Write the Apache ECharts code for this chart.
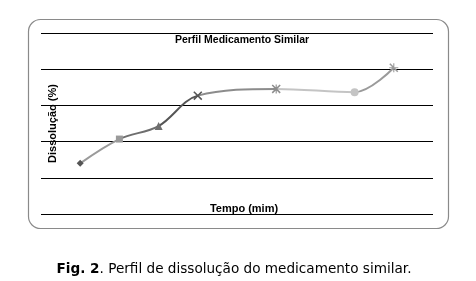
<!DOCTYPE html>
<html><head><meta charset="utf-8">
<script src="https://cdn.jsdelivr.net/npm/echarts@6/dist/echarts.min.js"></script>
<style>html,body{margin:0;padding:0;background:#fff}#c{width:476px;height:281px}</style>
</head><body><div id="c"></div>
<script>
const tempos = [5, 10, 15, 20, 30, 40, 45];
const dissolucao = [28.0, 41.4, 48.6, 65.4, 69.1, 67.3, 80.8];
const pointColors = ['#555555', '#9a9a9a', '#6e6e6e', '#555555', '#8c8c8c', '#c4c4c4', '#9a9a9a'];
const X_SYM = 'path://M0,1.2L1.2,0L10,8.8L8.8,10Z M8.8,0L10,1.2L1.2,10L0,8.8Z';
const AST_SYM = 'path://M0,1.2L1.2,0L10,8.8L8.8,10Z M8.8,0L10,1.2L1.2,10L0,8.8Z M4.4,0L5.6,0L5.6,10L4.4,10Z';
const PLUS_SYM = 'path://M4.4,0L5.6,0L5.6,10L4.4,10Z M0,4.4L10,4.4L10,5.6L0,5.6Z M0,1.2L1.2,0L10,8.8L8.8,10Z';
const symbols = ['diamond', 'rect', 'triangle', X_SYM, AST_SYM, 'circle', PLUS_SYM];
const symbolSizes = [7, 7, 8, 9, 9, 8, 9];
const chartTitle = 'Perfil Medicamento Similar';
const xName = 'Tempo (mim)';
const yName = 'Dissolução (%)';

const pieces = tempos.map((t, i) => i === 0 ? {lte: t, color: pointColors[i]} : {gt: tempos[i-1], lte: t, color: pointColors[i]});
pieces.push({gt: tempos[tempos.length-1], color: pointColors[pointColors.length-1]});

const chart = echarts.init(document.getElementById('c'), null, {renderer: 'canvas'});
chart.setOption({
  animation: false,
  backgroundColor: '#fff',
  grid: {left: 41, right: 43, top: 33, bottom: 67},
  title: [
    {text: chartTitle, left: 237, top: 30, textAlign: 'center',
     textStyle: {fontFamily: 'Liberation Sans', fontWeight: 'bold', fontSize: 10.5, color: '#000'}},
    {text: xName, left: 239, top: 198, textAlign: 'center',
     textStyle: {fontFamily: 'Liberation Sans', fontWeight: 'bold', fontSize: 11, color: '#000'}},
    {text: '{b|Fig. 2}. Perfil de dissolução do medicamento similar.', left: 229, top: 257, textAlign: 'center',
     textStyle: {fontFamily: 'DejaVu Sans', fontWeight: 'normal', fontSize: 13.6, color: '#000',
       rich: {b: {fontFamily: 'DejaVu Sans', fontWeight: 'bold', fontSize: 13.6, color: '#000'}}}}
  ],
  graphic: [{type: 'rect', shape: {x: 28.5, y: 19.5, width: 420, height: 209, r: 12},
    style: {fill: 'none', stroke: '#8a8a8a', lineWidth: 1.2}, z: -1}],
  visualMap: {show: false, type: 'piecewise', dimension: 0, seriesIndex: 0, pieces: pieces},
  xAxis: {type: 'value', min: 0, max: 50, axisLine: {show: false}, axisTick: {show: false},
    axisLabel: {show: false}, splitLine: {show: false}},
  yAxis: {type: 'value', min: 0, max: 100, interval: 20, name: yName, nameLocation: 'middle', nameGap: -17,
    nameTextStyle: {fontFamily: 'Liberation Sans', fontWeight: 'bold', fontSize: 11, color: '#000'},
    axisLine: {show: false}, axisTick: {show: false}, axisLabel: {show: false},
    splitLine: {show: true, lineStyle: {color: '#000', width: 1}}},
  series: [{
    type: 'line', smooth: 0.35,
    lineStyle: {width: 2},
    data: tempos.map((t, i) => ({value: [t, dissolucao[i]], symbol: symbols[i], symbolSize: symbolSizes[i]})),
    showAllSymbol: true
  }]
});
</script></body></html>
